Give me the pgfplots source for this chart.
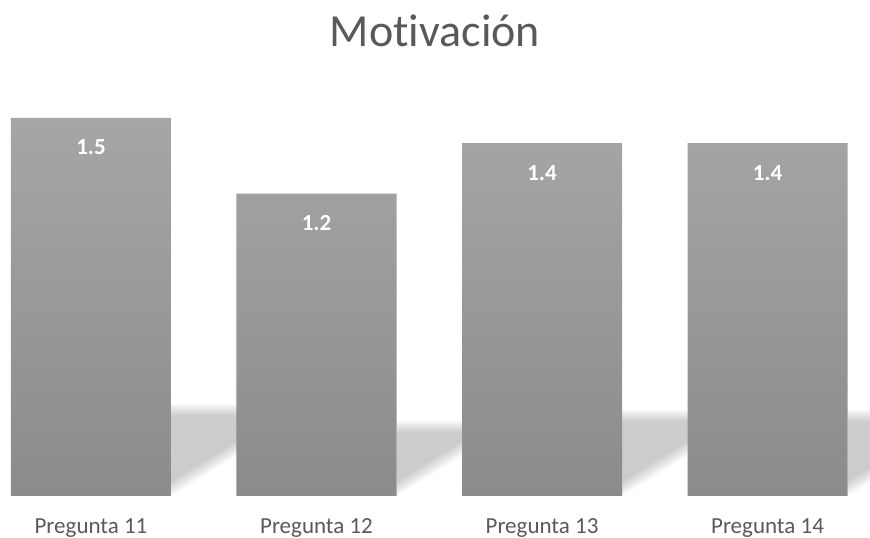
\documentclass[border=0pt]{standalone}
\usepackage{pgfplots}
\pgfplotsset{compat=1.18}
\usepackage{fontspec}
\setmainfont{Carlito}[Ligatures=NoCommon]

\definecolor{txtgray}{HTML}{595959}
\definecolor{bartop}{HTML}{A6A6A6}
\definecolor{barbot}{HTML}{8B8B8B}

% soft floor shadow cast to the right of a bar:
% #1 = right edge of the bar (axis units), #2 = shadow height (pt)
\newcommand{\barshadow}[2]{%
  \pgfplotsinvokeforeach{0,1,2,3,4,5,6,7}{%
    \fill[black, fill opacity=0.028]
      ([yshift=2.0*##1*1pt]axis cs:#1,0)
      -- ([yshift=(#2-1.6*##1)*1pt]axis cs:#1,0)
      -- ([xshift=(#2-3.6*##1)/0.62*1pt, yshift=(#2-1.6*##1)*1pt]axis cs:#1,0)
      -- cycle;
  }%
}

\begin{document}
\begin{tikzpicture}
\path[use as bounding box] (0,0) rectangle (870pt,538pt);
\begin{axis}[
  at={(0pt,42pt)}, anchor=south west,
  scale only axis,
  width=870pt, height=453.6pt,
  xmin=-0.4035, xmax=3.4545,
  ymin=0, ymax=1.8,
  axis line style={draw=none},
  major tick length=0pt,
  ytick=\empty,
  xtick={0,1,2,3},
  xticklabels={Pregunta 11, Pregunta 12, Pregunta 13, Pregunta 14},
  xticklabel style={anchor=base, yshift=-37pt, text=txtgray,
                    font=\fontsize{23}{27}\selectfont},
  title={Motivación},
  title style={at={(0.5,1)}, anchor=base, yshift=-10.5pt, text=txtgray,
               font=\fontsize{46}{52}\selectfont},
  clip=false,
]
  % floor shadows behind the bars
  \barshadow{0.3548}{92}
  \barshadow{1.3548}{75}
  \barshadow{2.3548}{86}
  \barshadow{3.3548}{86}

  \addplot[ybar, bar width=160pt, bar shift=0pt, draw=none,
           top color=bartop, bottom color=barbot,
           nodes near coords,
           nodes near coords style={anchor=base, yshift=-37pt, text=white,
             font=\fontsize{23}{27}\selectfont\bfseries,
             /pgf/number format/assume math mode=true,
             /pgf/number format/fixed, /pgf/number format/precision=1,
             /pgf/number format/fixed zerofill}]
    coordinates {(0,1.5) (1,1.2) (2,1.4) (3,1.4)};
\end{axis}
\end{tikzpicture}
\end{document}
